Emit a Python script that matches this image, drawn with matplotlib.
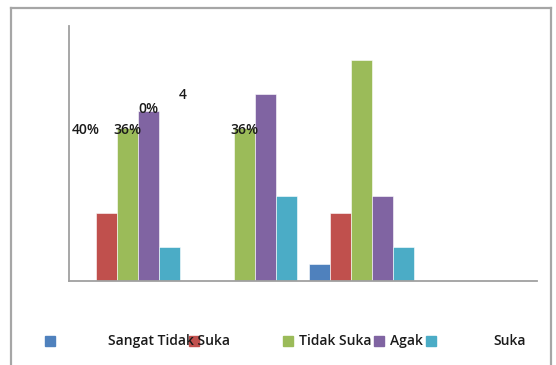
import matplotlib.pyplot as plt
from matplotlib.patches import Rectangle
import numpy as np

# jumlah responden per kategori (4 kelompok, kelompok terakhir kosong)
groups = ["1", "2", "3", "4"]
sangat_tidak_suka = [0, 0, 1, 0]
tidak_suka = [4, 0, 4, 0]
agak_suka = [9, 9, 13, 0]
suka = [10, 11, 5, 0]
sangat_suka = [2, 5, 2, 0]

series = [sangat_tidak_suka, tidak_suka, agak_suka, suka, sangat_suka]
colors = ["#4f81bd", "#c0504d", "#9bbb59", "#8064a2", "#4bacc6"]

# legend text is garbled in the original, keep it that way
legend_texts = ["Sangat Tidak Suka", "Tidak Suka", "Agak", "Suka"]

W, H = 556, 365
fig = plt.figure(figsize=(W / 100, H / 100), dpi=100)
fig.patch.set_facecolor("white")

# outer chart border (bottom is cut off)
fig.add_artist(plt.Line2D([11 / W, 11 / W], [0, 1 - 8 / H], color="#a6a6a6", lw=1.6))
fig.add_artist(plt.Line2D([11 / W, 551 / W], [1 - 8 / H, 1 - 8 / H], color="#a6a6a6", lw=1.6))
fig.add_artist(plt.Line2D([551 / W, 551 / W], [0, 1 - 8 / H], color="#a6a6a6", lw=1.6))

ax = fig.add_axes([69 / W, 1 - 281 / H, (537 - 69) / W, 255 / H])
ax.set_xlim(-0.5, 3.5)
ax.set_ylim(0, 15)
ax.set_xticks([])
ax.set_yticks([])
for s in ["top", "right"]:
    ax.spines[s].set_visible(False)
for s in ["left", "bottom"]:
    ax.spines[s].set_color("#a0a0a0")
    ax.spines[s].set_linewidth(1.3)

x = np.arange(len(groups))
bw = 0.18
for j, vals in enumerate(series):
    ax.bar(x + (j - 2) * bw, vals, width=bw, color=colors[j],
           edgecolor="white", linewidth=0.4)

font = dict(family="Open Sans", fontsize=10, fontweight="semibold", color="#1a1a1a")

# data labels (misplaced ones as in the source chart)
ax.text(0 - 2 * bw, 8.9, "40%", ha="center", va="center", **font)
ax.text(0, 8.9, "36%", ha="center", va="center", **font)
ax.text(1, 8.9, "36%", ha="center", va="center", **font)
ax.text(0 + bw, 10.1, "0%", ha="center", va="center", **font)
ax.text(0.474, 10.95, "4", ha="center", va="center", **font)

# legend drawn by hand
ly = 1 - 341 / H
sq = 10
for cx, c in zip([45, 189, 283, 374, 426], colors):
    fig.add_artist(Rectangle((cx / W, ly - sq / 2 / H), sq / W, sq / H,
                             color=c, transform=fig.transFigure))
for tx, t in zip([108, 299, 390, 493], legend_texts):
    fig.text(tx / W, ly, t, ha="left", va="center", **font)

fig.savefig("out.png", dpi=100)
